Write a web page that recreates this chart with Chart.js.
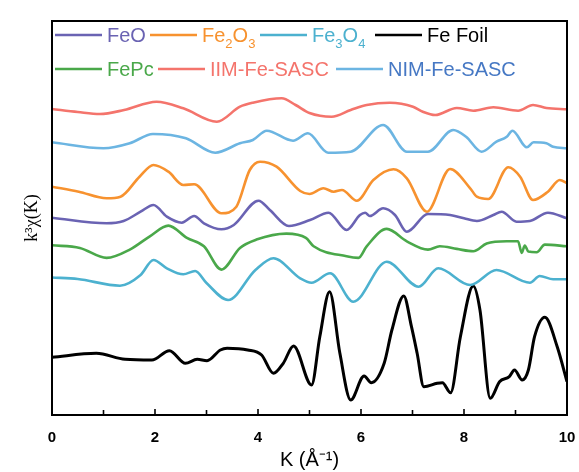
<!DOCTYPE html>
<html>
<head>
<meta charset="utf-8">
<script src="https://cdn.jsdelivr.net/npm/chart.js@4"></script>
<style>
  html, body { margin: 0; padding: 0; background: #fff; }
  #wrap { width: 579px; height: 472px; position: relative; }
</style>
</head>
<body>
<div id="wrap"><canvas id="c"></canvas></div>
<script>
// k³χ(k) oscillations, each trace shifted upward by its own offset
const seriesNames = ['FeO', 'Fe2O3', 'Fe3O4', 'Fe Foil', 'FePc', 'IIM-Fe-SASC', 'NIM-Fe-SASC'];

const iimK   = [0, 0.5, 0.93, 1.4, 2.03, 2.55, 3.2, 3.65, 3.9, 4.46, 4.73, 5.0, 5.43, 5.8, 6.11, 6.56, 7.01, 7.2, 7.44, 7.86, 8.18, 8.57, 9.05, 9.34, 9.6, 10];
const iimChi = [0, -0.3, -0.5, -0.1, 0.73, 0.07, -1.27, 0.23, 0.63, 1.07, 0.4, -0.4, -0.77, -0.1, 0.4, 0.63, 0.23, -0.27, -0.6, 0.1, -0.17, 0.17, -0.17, 0.4, 0.1, -0.03];

const nimK   = [0, 1.0, 1.51, 1.96, 2.6, 3.17, 3.65, 3.9, 4.17, 4.68, 4.97, 5.36, 5.8, 6.43, 6.89, 7.3, 7.79, 8.04, 8.34, 8.63, 8.83, 8.94, 9.22, 9.35, 9.6, 9.73, 10];
const nimChi = [0, -0.6, -0.1, 0.83, 0.4, -1.04, -0.1, 0.23, 1.16, 0.16, 0.9, -1.04, -0.94, 1.73, -0.94, -0.94, 1.23, 0.56, -0.94, 0.06, 0.56, 1.16, -0.5, 0, -0.1, -0.44, -0.6];

const fe2o3K   = [0, 0.52, 1.06, 1.33, 1.7, 1.97, 2.26, 2.55, 2.76, 3.29, 3.58, 3.84, 4.04, 4.36, 4.82, 5.0, 5.27, 5.47, 5.63, 5.92, 6.24, 6.63, 6.89, 7.28, 7.73, 8.12, 8.25, 8.47, 8.86, 9.09, 9.34, 9.63, 9.86, 10];
const fe2o3Chi = [0, -0.5, -1.16, -1.0, 1.0, 2.17, 1.5, 0.17, 0.24, -2.66, -2.0, 1.67, 2.5, 2.0, -0.43, -0.73, -0.16, -0.5, -0.33, -1.4, 0.67, 1.74, 0.84, -2.5, 1.77, -0.16, -1.0, -1.23, 1.94, 1.0, -1.33, -0.5, 0.67, 0.34];

const feoK   = [0, 1.06, 1.39, 1.72, 1.97, 2.23, 2.52, 2.76, 2.95, 3.29, 3.53, 4.01, 4.23, 4.6, 5.01, 5.37, 5.72, 5.98, 6.08, 6.17, 6.43, 6.66, 6.89, 7.3, 7.73, 8.0, 8.25, 8.57, 8.73, 9.02, 9.28, 9.63, 10];
const feoChi = [0, -0.56, -0.33, 0.6, 1.27, 0.1, -0.5, 0.17, -0.56, -1.16, -0.73, 1.7, 0.77, -0.83, -0.23, 0.5, -1.23, 0.27, 0.5, 0.17, 0.94, 0.27, -1.4, 0.37, 0.27, -0.06, -0.33, 0.27, 0.6, -0.4, -0.33, 0.5, -0.06];

const fepcK   = [0, 0.54, 1.06, 1.51, 1.9, 2.26, 2.62, 2.95, 3.29, 3.65, 3.97, 4.55, 4.93, 5.08, 5.72, 5.95, 6.11, 6.5, 6.89, 7.3, 7.53, 7.86, 8.18, 8.44, 8.83, 9.05, 9.12, 9.18, 9.25, 9.41, 9.57, 10];
const fepcChi = [0, -0.26, -1.26, -0.43, 0.9, 1.97, 0.74, -0.1, -2.43, -0.26, 0.57, 1.17, 0.74, -0.1, -1.1, -1.26, -0.1, 1.64, 0.4, -0.43, -0.1, -0.36, -0.6, 0.17, 0.4, 0.4, -0.76, -0.03, -0.63, -0.7, 0.07, -0.1];

const fe3o4K   = [0, 0.5, 1.32, 1.72, 1.97, 2.23, 2.55, 2.78, 3.0, 3.42, 3.95, 4.3, 4.82, 5.04, 5.4, 5.85, 6.5, 7.12, 7.5, 8.12, 8.63, 9.28, 9.47, 9.73, 10];
const fe3o4Chi = [0, -0.15, -0.82, 0.25, 1.75, 0.92, 0.32, 0.65, -0.55, -2.25, 0.75, 1.92, -0.08, -0.52, 0.42, -2.42, 1.58, -0.92, 0.92, -0.75, 0.75, -0.52, 0.15, -0.18, -0.18];

const foilK   = [0, 0.86, 1.42, 1.94, 2.28, 2.59, 2.82, 3.01, 3.27, 3.4, 3.8, 4.07, 4.3, 4.49, 4.69, 5.04, 5.2, 5.39, 5.59, 5.8, 6.06, 6.2, 6.45, 6.6, 6.83, 6.98, 7.09, 7.22, 7.48, 7.58, 7.74, 7.93, 8.18, 8.31, 8.51, 8.69, 8.88, 8.98, 9.13, 9.25, 9.37, 9.57, 9.81, 10];
const foilChi = [0, 0.4, -0.2, -0.27, 0.66, -0.6, -0.2, -0.34, 0.73, 0.9, 0.73, 0.23, -1.6, -0.6, 1.13, -2.77, 2.06, 6.56, 0.4, -4.27, -1.87, -2.54, -0.6, 2.73, 6.13, 3.06, 0.4, -2.94, -2.6, -2.54, -3.54, 2.06, 7.13, 4.73, -4.1, -2.44, -1.94, -1.27, -2.27, -1.27, 2.06, 4.0, 1.06, -2.44];

// vertical shift of each trace (same order as seriesNames)
const offsets = [19.73, 22.83, 13.75, 5.77, 16.97, 30.6, 27.27];

const xTicks = [0, 2, 4, 6, 8, 10];

const colors = ['#6a63b3', '#f7922f', '#4cb1cf', '#000000', '#4aa84a', '#f4746c', '#6cb5e2'];
const textColors = ['#6a63b3', '#f7922f', '#4cb1cf', '#000000', '#4aa84a', '#f4746c', '#4678c4'];

const kArrays = [feoK, fe2o3K, fe3o4K, foilK, fepcK, iimK, nimK];
const chiArrays = [feoChi, fe2o3Chi, fe3o4Chi, foilChi, fepcChi, iimChi, nimChi];

function points(ks, chis, off) {
  return ks.map((k, i) => ({ x: k, y: chis[i] + off }));
}

const datasets = seriesNames.map((name, i) => ({
  label: name,
  data: points(kArrays[i], chiArrays[i], offsets[i]),
  borderColor: colors[i],
  borderWidth: name === 'Fe Foil' ? 3 : 2.6,
  pointRadius: 0,
  fill: false,
  cubicInterpolationMode: 'monotone'
}));

// legend labels with chemical subscripts: [text, isSubscript]
const legendParts = [
  [['FeO', 0]],
  [['Fe', 0], ['2', 1], ['O', 0], ['3', 1]],
  [['Fe', 0], ['3', 1], ['O', 0], ['4', 1]],
  [['Fe Foil', 0]],
  [['FePc', 0]],
  [['IIM-Fe-SASC', 0]],
  [['NIM-Fe-SASC', 0]]
];
const legendRows = [[0, 1, 2, 3], [4, 5, 6]];
const legendLineStart = [[55, 150, 260, 375], [55, 158, 336]];

const frameAndLegend = {
  id: 'frameAndLegend',
  afterDatasetsDraw(chart) {
    const { ctx, chartArea: a, scales: { x } } = chart;
    ctx.save();
    // box frame
    ctx.strokeStyle = '#000';
    ctx.lineWidth = 2;
    ctx.strokeRect(a.left, a.top, a.right - a.left, a.bottom - a.top);
    // inward tick marks on the k axis
    ctx.lineWidth = 1.6;
    for (let v = 0; v <= 10; v++) {
      const px = x.getPixelForValue(v);
      ctx.beginPath();
      ctx.moveTo(px, a.bottom);
      ctx.lineTo(px, a.bottom - (v % 2 === 0 ? 6 : 5));
      ctx.stroke();
    }
    // legend inside the plot box
    const rowY = [a.top + 14, a.top + 48];
    legendRows.forEach((row, r) => {
      row.forEach((idx, j) => {
        const x0 = legendLineStart[r][j];
        const y = rowY[r];
        ctx.strokeStyle = colors[idx];
        ctx.lineWidth = 2.5;
        ctx.beginPath();
        ctx.moveTo(x0, y);
        ctx.lineTo(x0 + 47, y);
        ctx.stroke();
        let tx = x0 + 52;
        ctx.fillStyle = textColors[idx];
        ctx.textBaseline = 'alphabetic';
        legendParts[idx].forEach(([t, sub]) => {
          ctx.font = sub ? '13px "Liberation Sans", Arial, sans-serif' : '20px "Liberation Sans", Arial, sans-serif';
          ctx.fillText(t, tx, sub ? y + 13 : y + 7);
          tx += ctx.measureText(t).width;
        });
      });
    });
    ctx.restore();
  }
};

new Chart(document.getElementById('c'), {
  type: 'line',
  data: { datasets },
  options: {
    responsive: true,
    maintainAspectRatio: false,
    animation: false,
    layout: { padding: { top: 21, right: 12, left: 0, bottom: 0 } },
    plugins: { legend: { display: false }, tooltip: { enabled: false } },
    scales: {
      x: {
        type: 'linear',
        min: 0,
        max: 10,
        grid: { display: false, drawTicks: false },
        border: { display: false },
        ticks: {
          stepSize: 1,
          autoSkip: false,
          maxRotation: 0,
          padding: 14,
          color: '#000',
          font: { family: '"Liberation Sans", Arial, sans-serif', size: 15, weight: 'bold' },
          callback: v => (xTicks.includes(v) ? String(v) : '')
        },
        title: {
          display: true,
          text: 'K (Å⁻¹)',
          color: '#000',
          font: { family: '"Liberation Sans", Arial, sans-serif', size: 20 },
          padding: { top: 0, bottom: 0 }
        },
        afterFit(scale) {
          scale.height = 57;
          scale.paddingLeft = 0;
          scale.paddingRight = 0;
        }
      },
      y: {
        type: 'linear',
        min: 0,
        max: 39.4,
        grid: { display: false, drawTicks: false },
        border: { display: false },
        ticks: { display: false },
        title: {
          display: true,
          text: 'k³χ(K)',
          color: '#000',
          font: { family: '"Liberation Serif", "Times New Roman", serif', size: 18 },
          padding: { top: 21, bottom: 0 }
        },
        afterFit(scale) {
          scale.width = 52;
          scale.paddingTop = 0;
          scale.paddingBottom = 0;
        }
      }
    }
  },
  plugins: [frameAndLegend]
});
</script>
</body>
</html>
